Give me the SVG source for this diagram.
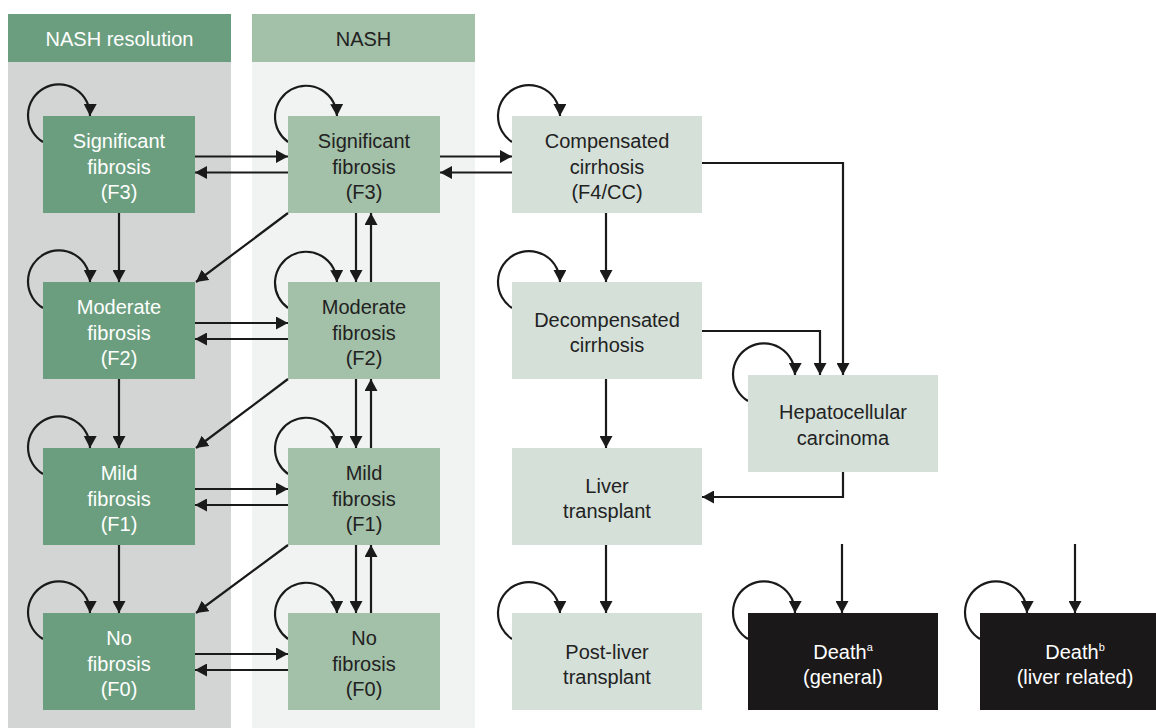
<svg xmlns="http://www.w3.org/2000/svg" width="1156" height="728" viewBox="0 0 1156 728">
<style>
text{font-family:"Liberation Sans",Arial,Helvetica,sans-serif;font-size:20px;text-anchor:middle}
.res{fill:#6a9e7e}
.nash{fill:#a3c0a8}
.cir{fill:#d5e0d9}
.dth{fill:#1b1819}
.tw{fill:#ffffff}
.td{fill:#222222}
.ln{fill:none;stroke:#1a1a1a;stroke-width:2.2;marker-end:url(#ah)}
</style>
<defs>
<marker id="ah" markerUnits="userSpaceOnUse" markerWidth="13" markerHeight="13" refX="12" refY="6.5" orient="auto">
<path d="M0,0 L12,6.5 L0,13 z" fill="#1a1a1a"/>
</marker>
</defs>
<rect width="1156" height="728" fill="#ffffff"/>
<g id="panels">
<rect x="8" y="14" width="223" height="48" class="res"/>
<rect x="8" y="62" width="223" height="666" fill="#d3d5d4"/>
<text x="119.5" y="46" class="tw">NASH resolution</text>
<rect x="252" y="14" width="223" height="48" class="nash"/>
<rect x="252" y="62" width="223" height="666" fill="#f1f3f2"/>
<text x="363.5" y="46" class="td">NASH</text>
</g>
<g id="connectors">
<path class="ln" d="M43,142 A31,31 0 1 1 90,116"/>
<path class="ln" d="M43,308 A31,31 0 1 1 90,282"/>
<path class="ln" d="M43,474 A31,31 0 1 1 90,448"/>
<path class="ln" d="M43,639 A31,31 0 1 1 90,613"/>
<path class="ln" d="M288,142 A31,31 0 1 1 337,116"/>
<path class="ln" d="M288,308 A31,31 0 1 1 337,282"/>
<path class="ln" d="M288,474 A31,31 0 1 1 337,448"/>
<path class="ln" d="M288,639 A31,31 0 1 1 337,613"/>
<path class="ln" d="M512,142 A31,31 0 1 1 560,116"/>
<path class="ln" d="M512,308 A31,31 0 1 1 560,282"/>
<path class="ln" d="M748,401 A31,31 0 1 1 795,375"/>
<path class="ln" d="M512,639 A31,31 0 1 1 560,613"/>
<path class="ln" d="M748,639 A31,31 0 1 1 795,613"/>
<path class="ln" d="M980,639 A31,31 0 1 1 1027,613"/>
<path class="ln" d="M119,213 V282"/>
<path class="ln" d="M119,379 V448"/>
<path class="ln" d="M119,545 V613"/>
<path class="ln" d="M356,213 V282"/>
<path class="ln" d="M371,282 V213"/>
<path class="ln" d="M356,379 V448"/>
<path class="ln" d="M371,448 V379"/>
<path class="ln" d="M356,545 V613"/>
<path class="ln" d="M371,613 V545"/>
<path class="ln" d="M195,156.5 H288"/>
<path class="ln" d="M288,172.5 H195"/>
<path class="ln" d="M195,323 H288"/>
<path class="ln" d="M288,339 H195"/>
<path class="ln" d="M195,489 H288"/>
<path class="ln" d="M288,505 H195"/>
<path class="ln" d="M195,654 H288"/>
<path class="ln" d="M288,670 H195"/>
<path class="ln" d="M440,156.5 H512"/>
<path class="ln" d="M512,172.5 H440"/>
<path class="ln" d="M288,213 L196,282"/>
<path class="ln" d="M288,379 L196,448"/>
<path class="ln" d="M288,545 L196,613"/>
<path class="ln" d="M606,213 V282"/>
<path class="ln" d="M606,379 V448"/>
<path class="ln" d="M606,545 V613"/>
<path class="ln" d="M702,163 H843 V375"/>
<path class="ln" d="M702,331 H820 V375"/>
<path class="ln" d="M843,472 V497 H702"/>
<path class="ln" d="M842,544 V613"/>
<path class="ln" d="M1075,544 V613"/>
</g>
<g id="n-res-f3"><rect x="43" y="116" width="152" height="97" class="res"/><text x="119" y="148" class="tw">Significant</text><text x="119" y="174" class="tw">fibrosis</text><text x="119" y="199" class="tw">(F3)</text></g>
<g id="n-res-f2"><rect x="43" y="282" width="152" height="97" class="res"/><text x="119" y="314" class="tw">Moderate</text><text x="119" y="340" class="tw">fibrosis</text><text x="119" y="365" class="tw">(F2)</text></g>
<g id="n-res-f1"><rect x="43" y="448" width="152" height="97" class="res"/><text x="119" y="480" class="tw">Mild</text><text x="119" y="506" class="tw">fibrosis</text><text x="119" y="531" class="tw">(F1)</text></g>
<g id="n-res-f0"><rect x="43" y="613" width="152" height="97" class="res"/><text x="119" y="645" class="tw">No</text><text x="119" y="671" class="tw">fibrosis</text><text x="119" y="696" class="tw">(F0)</text></g>
<g id="n-nash-f3"><rect x="288" y="116" width="152" height="97" class="nash"/><text x="364" y="148" class="td">Significant</text><text x="364" y="174" class="td">fibrosis</text><text x="364" y="199" class="td">(F3)</text></g>
<g id="n-nash-f2"><rect x="288" y="282" width="152" height="97" class="nash"/><text x="364" y="314" class="td">Moderate</text><text x="364" y="340" class="td">fibrosis</text><text x="364" y="365" class="td">(F2)</text></g>
<g id="n-nash-f1"><rect x="288" y="448" width="152" height="97" class="nash"/><text x="364" y="480" class="td">Mild</text><text x="364" y="506" class="td">fibrosis</text><text x="364" y="531" class="td">(F1)</text></g>
<g id="n-nash-f0"><rect x="288" y="613" width="152" height="97" class="nash"/><text x="364" y="645" class="td">No</text><text x="364" y="671" class="td">fibrosis</text><text x="364" y="696" class="td">(F0)</text></g>
<g id="n-cc"><rect x="512" y="116" width="190" height="97" class="cir"/><text x="607" y="148" class="td">Compensated</text><text x="607" y="174" class="td">cirrhosis</text><text x="607" y="199" class="td">(F4/CC)</text></g>
<g id="n-dcc"><rect x="512" y="282" width="190" height="97" class="cir"/><text x="607" y="327" class="td">Decompensated</text><text x="607" y="352" class="td">cirrhosis</text></g>
<g id="n-hcc"><rect x="748" y="375" width="190" height="97" class="cir"/><text x="843" y="419" class="td">Hepatocellular</text><text x="843" y="445" class="td">carcinoma</text></g>
<g id="n-lt"><rect x="512" y="448" width="190" height="97" class="cir"/><text x="607" y="493" class="td">Liver</text><text x="607" y="518" class="td">transplant</text></g>
<g id="n-plt"><rect x="512" y="613" width="190" height="97" class="cir"/><text x="607" y="659" class="td">Post-liver</text><text x="607" y="684" class="td">transplant</text></g>
<g id="n-death-general"><rect x="748" y="613" width="190" height="97" class="dth"/><text x="843" y="659" class="tw">Death<tspan font-size="11" dy="-8">a</tspan></text><text x="843" y="684" class="tw">(general)</text></g>
<g id="n-death-liver"><rect x="980" y="613" width="190" height="97" class="dth"/><text x="1075" y="659" class="tw">Death<tspan font-size="11" dy="-8">b</tspan></text><text x="1075" y="684" class="tw">(liver related)</text></g>
</svg>
